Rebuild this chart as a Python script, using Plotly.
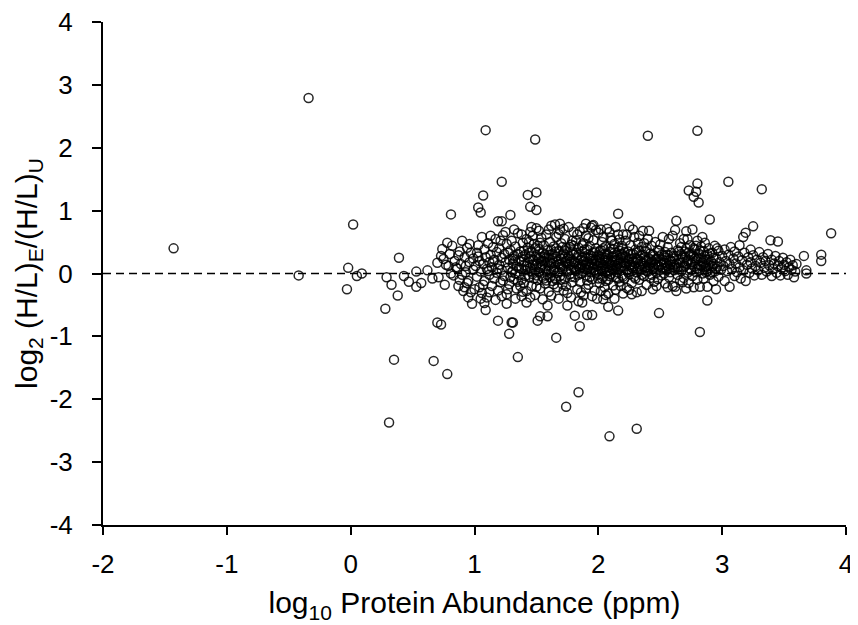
import plotly.graph_objects as go

# points, grouped by region (x = log10 abundance, y = log2 ratio)
left_pts = [(-1.43, 0.40), (-0.34, 2.79), (-0.42, -0.03), (0.02, 0.78), (-0.02, 0.09), (-0.03, -0.25),
            (0.05, -0.04), (0.09, 0.00), (0.39, 0.25), (0.29, -0.06), (0.33, -0.18), (0.38, -0.35),
            (0.28, -0.56), (0.43, -0.04), (0.47, -0.13), (0.53, 0.03), (0.53, -0.21), (0.57, -0.15),
            (0.35, -1.37), (0.31, -2.37), (0.67, -1.39), (0.78, -1.60), (0.70, -0.78), (0.73, -0.81)]

high_pts = [(1.09, 2.28), (1.49, 2.13), (2.40, 2.19), (2.80, 2.27), (1.22, 1.46), (1.07, 1.24), (1.43, 1.25),
            (1.50, 1.29), (2.80, 1.43), (2.73, 1.32), (2.79, 1.30), (2.77, 1.22), (2.81, 1.13), (3.05, 1.46),
            (3.32, 1.34), (0.81, 0.94), (1.03, 1.05), (1.05, 0.97), (1.45, 1.06), (1.50, 1.01), (1.29, 0.93),
            (1.19, 0.83), (1.22, 0.83), (2.16, 0.95), (1.69, 0.79), (1.90, 0.79), (1.95, 0.76)]

low_pts = [(2.09, -2.59), (2.31, -2.47), (1.74, -2.12), (1.84, -1.89), (1.35, -1.33), (1.66, -1.02),
           (2.82, -0.93), (2.49, -0.63), (1.28, -0.96), (1.19, -0.75), (1.30, -0.78), (1.31, -0.78),
           (1.85, -0.84), (1.81, -0.67), (1.91, -0.66), (1.95, -0.66), (1.51, -0.75), (1.53, -0.68),
           (1.59, -0.68), (1.09, -0.58), (2.08, -0.53), (2.16, -0.59), (2.88, -0.43), (0.98, -0.48),
           (1.08, -0.47), (1.26, -0.48), (1.42, -0.46), (1.59, -0.51), (1.75, -0.51), (1.87, -0.46),
           (2.04, -0.41), (2.27, -0.33), (3.06, -0.21), (3.19, -0.12)]

band_a = [(0.62, 0.05), (0.66, -0.08), (0.70, 0.17), (0.71, -0.06), (0.73, 0.28), (0.74, 0.39), (0.75, 0.23),
          (0.76, -0.18), (0.78, 0.49), (0.79, 0.12), (0.80, 0.31), (0.82, 0.44), (0.83, -0.03), (0.84, 0.20),
          (0.86, 0.08), (0.87, -0.20), (0.88, 0.35), (0.89, 0.15), (0.90, 0.52), (0.91, -0.28), (0.92, 0.26),
          (0.93, 0.02), (0.94, 0.41), (0.95, -0.12), (0.96, 0.18), (0.97, 0.33), (0.99, 0.06), (0.88, -0.10),
          (0.85, 0.10), (0.92, -0.22), (0.96, 0.47), (0.81, 0.00), (0.77, 0.14), (0.93, 0.12), (0.97, -0.30),
          (0.99, 0.24), (0.90, -0.02), (0.87, 0.29), (0.94, -0.15)]

band_b = [(1.01, 0.12), (1.02, -0.05), (1.02, 0.33), (1.03, 0.45), (1.04, -0.22), (1.04, 0.20), (1.05, 0.03),
          (1.06, 0.58), (1.06, -0.31), (1.07, 0.15), (1.08, 0.38), (1.08, -0.12), (1.09, 0.26), (1.10, 0.07),
          (1.10, -0.38), (1.11, 0.48), (1.12, 0.18), (1.12, -0.02), (1.13, 0.30), (1.14, -0.20), (1.14, 0.10),
          (1.15, 0.42), (1.16, 0.22), (1.16, -0.08), (1.17, 0.55), (1.18, 0.01), (1.18, 0.34), (1.19, -0.27),
          (1.20, 0.14), (1.20, 0.40), (1.21, -0.14), (1.22, 0.25), (1.22, 0.06), (1.23, 0.61), (1.24, -0.04),
          (1.24, 0.31), (1.25, 0.18), (1.26, -0.33), (1.26, 0.47), (1.27, 0.09), (1.28, 0.22), (1.28, -0.17),
          (1.29, 0.37), (1.30, 0.02), (1.30, 0.52), (1.31, 0.16), (1.32, -0.09), (1.32, 0.28), (1.33, 0.43),
          (1.34, -0.24), (1.34, 0.11), (1.35, 0.64), (1.36, 0.20), (1.36, -0.02), (1.37, 0.35), (1.38, 0.07),
          (1.38, -0.36), (1.39, 0.27), (1.39, 0.49), (1.40, 0.13), (1.03, 0.27), (1.07, -0.18), (1.11, 0.04),
          (1.15, 0.19), (1.19, 0.08), (1.23, -0.11), (1.27, 0.33), (1.31, 0.24), (1.35, -0.13), (1.38, 0.19),
          (1.13, 0.60), (1.21, 0.52), (1.29, -0.06), (1.33, 0.00), (1.37, -0.20)]

band_c = [(1.40, -0.15), (1.41, 0.30), (1.41, 0.05), (1.42, 0.55), (1.42, -0.28), (1.43, 0.18), (1.43, 0.41),
          (1.44, -0.06), (1.44, 0.24), (1.45, 0.09), (1.45, 0.66), (1.46, -0.20), (1.46, 0.35), (1.47, 0.14),
          (1.47, -0.01), (1.48, 0.47), (1.48, 0.21), (1.49, -0.34), (1.49, 0.06), (1.50, 0.29), (1.50, 0.72),
          (1.51, -0.10), (1.51, 0.16), (1.52, 0.39), (1.52, 0.02), (1.53, -0.24), (1.53, 0.26), (1.54, 0.57),
          (1.54, 0.11), (1.55, -0.05), (1.55, 0.33), (1.56, 0.19), (1.56, 0.45), (1.57, -0.16), (1.57, 0.08),
          (1.58, 0.62), (1.58, 0.25), (1.59, -0.02), (1.59, 0.37), (1.60, 0.13), (1.60, -0.29), (1.61, 0.50),
          (1.61, 0.22), (1.62, 0.04), (1.62, 0.76), (1.63, -0.12), (1.63, 0.31), (1.64, 0.17), (1.64, 0.43),
          (1.65, -0.07), (1.65, 0.10), (1.66, 0.58), (1.66, 0.27), (1.67, -0.22), (1.67, 0.01), (1.68, 0.36),
          (1.68, 0.15), (1.69, 0.69), (1.69, -0.04), (1.70, 0.23), (1.70, 0.48), (1.71, 0.07), (1.71, -0.17),
          (1.72, 0.32), (1.72, 0.12), (1.73, 0.55), (1.73, -0.09), (1.74, 0.20), (1.74, 0.40), (1.75, 0.03),
          (1.75, -0.31), (1.76, 0.28), (1.76, 0.74), (1.77, 0.14), (1.77, -0.01), (1.78, 0.46), (1.78, 0.19),
          (1.79, -0.14), (1.79, 0.35), (1.80, 0.09), (1.42, 0.12), (1.45, 0.27), (1.48, -0.08), (1.51, 0.44),
          (1.54, 0.20), (1.57, 0.30), (1.60, 0.05), (1.63, 0.24), (1.66, -0.10), (1.69, 0.14), (1.72, 0.26),
          (1.75, 0.16), (1.78, 0.06), (1.44, 0.50), (1.50, 0.13), (1.56, -0.08), (1.62, 0.38), (1.68, 0.63),
          (1.74, -0.20), (1.79, 0.52), (1.47, 0.60), (1.53, 0.09), (1.59, 0.18), (1.65, 0.34), (1.71, 0.42),
          (1.77, 0.24)]

band_d = [(1.80, 0.30), (1.81, -0.06), (1.81, 0.17), (1.82, 0.52), (1.82, 0.04), (1.83, -0.25), (1.83, 0.26),
          (1.84, 0.41), (1.84, 0.11), (1.85, -0.13), (1.85, 0.67), (1.86, 0.21), (1.86, 0.00), (1.87, 0.35),
          (1.87, 0.14), (1.88, -0.35), (1.88, 0.48), (1.89, 0.08), (1.89, 0.27), (1.90, -0.03), (1.90, 0.60),
          (1.91, 0.19), (1.91, 0.38), (1.92, -0.18), (1.92, 0.10), (1.93, 0.44), (1.93, 0.24), (1.94, 0.02),
          (1.94, 0.73), (1.95, 0.16), (1.95, -0.09), (1.96, 0.33), (1.96, 0.53), (1.97, 0.06), (1.97, -0.27),
          (1.98, 0.22), (1.98, 0.40), (1.99, 0.12), (1.99, -0.02), (2.00, 0.29), (2.00, 0.65), (2.01, 0.18),
          (2.01, -0.15), (2.02, 0.08), (2.02, 0.37), (2.03, 0.24), (2.03, 0.50), (2.04, -0.05), (2.04, 0.14),
          (2.05, 0.31), (2.05, -0.22), (2.06, 0.43), (2.06, 0.03), (2.07, 0.20), (2.07, 0.71), (2.08, 0.10),
          (2.08, -0.10), (2.09, 0.34), (2.09, 0.16), (2.10, 0.57), (2.10, -0.01), (2.11, 0.26), (2.11, 0.07),
          (2.12, -0.19), (2.12, 0.39), (2.13, 0.13), (2.13, 0.47), (2.14, 0.22), (2.14, -0.06), (2.15, 0.02),
          (2.15, 0.30), (2.16, 0.62), (2.16, 0.15), (2.17, -0.13), (2.17, 0.36), (2.18, 0.09), (2.18, 0.25),
          (2.19, 0.44), (2.19, -0.03), (2.20, 0.18), (1.82, 0.33), (1.85, 0.08), (1.88, 0.19), (1.91, -0.11),
          (1.94, 0.28), (1.97, 0.15), (2.00, 0.04), (2.03, -0.08), (2.06, 0.25), (2.09, 0.05), (2.12, 0.28),
          (2.15, 0.12), (2.18, -0.20), (1.83, 0.62), (1.87, 0.45), (1.92, 0.56), (1.98, 0.69), (2.04, 0.58),
          (2.11, 0.52), (2.17, 0.54), (1.86, -0.30), (1.95, -0.36), (2.02, -0.28), (2.08, -0.32), (2.14, -0.26),
          (1.89, 0.13), (1.96, 0.21), (2.01, 0.35), (2.07, 0.01), (2.13, 0.20), (2.19, 0.31)]

band_e = [(2.20, 0.40), (2.21, -0.08), (2.21, 0.12), (2.22, 0.27), (2.22, 0.52), (2.23, 0.05), (2.23, -0.23),
          (2.24, 0.19), (2.24, 0.35), (2.25, -0.01), (2.25, 0.75), (2.26, 0.14), (2.26, 0.45), (2.27, -0.15),
          (2.27, 0.24), (2.28, 0.08), (2.28, 0.31), (2.29, 0.58), (2.29, -0.05), (2.30, 0.17), (2.30, 0.38),
          (2.31, 0.02), (2.31, -0.30), (2.32, 0.22), (2.32, 0.49), (2.33, 0.11), (2.33, -0.10), (2.34, 0.29),
          (2.35, 0.06), (2.35, 0.42), (2.36, 0.68), (2.36, 0.16), (2.37, -0.04), (2.37, 0.26), (2.38, 0.09),
          (2.38, 0.36), (2.39, -0.18), (2.39, 0.20), (2.40, 0.55), (2.40, 0.03), (2.41, 0.68), (2.41, 0.13),
          (2.42, 0.32), (2.42, -0.07), (2.43, 0.21), (2.43, 0.44), (2.44, 0.07), (2.45, -0.13), (2.45, 0.28),
          (2.46, 0.15), (2.46, 0.50), (2.47, 0.01), (2.47, 0.24), (2.48, 0.37), (2.48, -0.09), (2.49, 0.11),
          (2.50, 0.19), (2.50, 0.46), (2.51, -0.03), (2.51, 0.30), (2.52, 0.08), (2.52, 0.58), (2.53, 0.17),
          (2.54, -0.16), (2.54, 0.34), (2.55, 0.05), (2.55, 0.25), (2.56, 0.42), (2.56, 0.12), (2.57, -0.06),
          (2.57, 0.55), (2.58, 0.21), (2.58, 0.02), (2.59, 0.33), (2.60, 0.10), (2.23, 0.62), (2.27, 0.10),
          (2.34, 0.14), (2.39, 0.04), (2.44, 0.18), (2.49, 0.27), (2.53, 0.00), (2.58, 0.14), (2.25, 0.23),
          (2.31, 0.33), (2.37, 0.48), (2.42, 0.09), (2.47, -0.20), (2.52, 0.22)]

band_f = [(2.60, -0.20), (2.60, 0.60), (2.61, 0.28), (2.61, 0.05), (2.62, 0.69), (2.62, -0.21), (2.63, 0.16),
          (2.63, 0.84), (2.64, 0.37), (2.64, -0.02), (2.65, 0.22), (2.65, 0.10), (2.66, 0.48), (2.66, -0.11),
          (2.67, 0.31), (2.67, 0.04), (2.68, 0.18), (2.69, 0.55), (2.69, -0.07), (2.70, 0.26), (2.70, 0.12),
          (2.71, 0.67), (2.71, 0.40), (2.72, 0.01), (2.72, 0.20), (2.73, -0.15), (2.73, 0.33), (2.74, 0.08),
          (2.74, 0.45), (2.75, 0.15), (2.76, 0.70), (2.76, -0.04), (2.77, -0.22), (2.77, 0.28), (2.78, 0.11),
          (2.78, 0.38), (2.79, 0.02), (2.79, 0.21), (2.80, 0.52), (2.80, -0.10), (2.81, 0.14), (2.81, 0.32),
          (2.82, -0.21), (2.82, 0.06), (2.83, 0.25), (2.83, 0.43), (2.84, 0.00), (2.84, 0.17), (2.85, 0.35),
          (2.85, -0.08), (2.86, 0.10), (2.86, 0.49), (2.87, 0.22), (2.88, -0.21), (2.88, 0.04), (2.88, 0.30),
          (2.89, 0.13), (2.89, 0.40), (2.90, 0.86), (2.90, -0.02), (2.91, 0.19), (2.91, 0.08), (2.92, 0.33),
          (2.93, -0.12), (2.93, 0.15), (2.94, 0.44), (2.94, 0.03), (2.95, -0.25), (2.95, 0.24), (2.96, 0.11),
          (2.97, 0.36), (2.97, -0.05), (2.98, 0.18), (2.99, 0.06), (3.00, 0.28), (2.62, 0.09), (2.67, 0.42),
          (2.72, 0.55), (2.75, 0.30), (2.79, 0.44), (2.84, 0.58), (2.87, 0.12), (2.92, 0.02), (2.96, 0.40),
          (2.68, -0.14)]

band_g = [(3.01, 0.12), (3.02, -0.12), (3.02, 0.38), (3.03, 0.20), (3.04, 0.04), (3.05, 0.30), (3.06, 0.15),
          (3.07, 0.42), (3.08, 0.07), (3.09, 0.24), (3.10, -0.04), (3.10, 0.35), (3.11, 0.16), (3.12, 0.02),
          (3.13, 0.27), (3.14, 0.45), (3.14, 0.10), (3.15, -0.08), (3.16, 0.21), (3.17, 0.58), (3.17, 0.05),
          (3.18, 0.33), (3.19, 0.65), (3.20, 0.14), (3.21, 0.26), (3.22, 0.01), (3.23, 0.38), (3.23, 0.18),
          (3.24, 0.08), (3.25, 0.75), (3.25, 0.29), (3.26, -0.03), (3.27, 0.12), (3.28, 0.22), (3.29, 0.05),
          (3.30, 0.34), (3.31, 0.17), (3.32, -0.02), (3.33, 0.26), (3.34, 0.09), (3.35, 0.20), (3.36, 0.03),
          (3.37, 0.31), (3.38, 0.13), (3.39, 0.53), (3.40, -0.04), (3.40, 0.22), (3.41, 0.07), (3.42, 0.16),
          (3.43, 0.28), (3.44, 0.01), (3.45, 0.51), (3.45, 0.12), (3.46, 0.20), (3.47, -0.03), (3.48, 0.09),
          (3.49, 0.25), (3.50, 0.14), (3.51, 0.04), (3.52, 0.18), (3.53, -0.02), (3.54, 0.10), (3.55, 0.22),
          (3.56, 0.06), (3.57, 0.13), (3.58, -0.06), (3.59, 0.03), (3.60, 0.15), (3.66, 0.28), (3.68, 0.05),
          (3.68, 0.00), (3.80, 0.30), (3.80, 0.20), (3.88, 0.64)]

# the solid dark core of the cloud
core_pts = [(1.31, 0.05), (1.33, 0.21), (1.35, 0.31), (1.36, 0.09), (1.38, -0.10), (1.40, 0.36), (1.41, -0.04),
            (1.43, 0.07), (1.44, 0.33), (1.46, 0.03), (1.47, 0.22), (1.49, 0.40), (1.50, -0.03), (1.52, 0.23),
            (1.53, 0.49), (1.55, 0.14), (1.56, 0.27), (1.58, 0.04), (1.58, -0.11), (1.60, 0.30), (1.61, -0.06),
            (1.62, 0.16), (1.64, 0.06), (1.64, -0.17), (1.66, 0.40), (1.67, 0.19), (1.68, 0.03), (1.70, 0.11),
            (1.70, -0.10), (1.71, 0.30), (1.73, 0.18), (1.73, 0.37), (1.75, 0.24), (1.76, 0.06), (1.77, 0.42),
            (1.78, -0.05), (1.80, 0.20), (1.80, 0.44), (1.81, 0.06), (1.83, 0.15), (1.84, -0.02), (1.84, 0.30),
            (1.86, 0.10), (1.87, 0.25), (1.88, 0.03), (1.89, 0.38), (1.90, 0.16), (1.91, 0.06), (1.92, 0.30),
            (1.93, 0.13), (1.93, -0.06), (1.95, 0.24), (1.96, 0.09), (1.97, 0.35), (1.98, 0.01), (1.99, 0.20),
            (2.00, 0.12), (2.00, -0.08), (2.01, 0.26), (2.02, 0.17), (2.03, 0.04), (2.04, 0.40), (2.05, 0.10),
            (2.05, 0.21), (2.06, -0.12), (2.07, 0.31), (2.08, 0.23), (2.09, -0.04), (2.10, 0.14), (2.10, 0.40),
            (2.11, 0.18), (2.12, 0.05), (2.13, 0.33), (2.14, 0.10), (2.15, 0.22), (2.16, -0.08), (2.16, 0.42),
            (2.17, 0.07), (2.18, 0.17), (2.19, 0.11), (2.20, 0.28), (2.20, -0.05), (2.21, 0.34), (2.22, 0.16),
            (2.23, 0.25), (2.24, 0.02), (2.25, 0.13), (2.26, 0.31), (2.27, 0.04), (2.28, 0.19), (2.29, 0.12),
            (2.30, -0.08), (2.31, 0.24), (2.32, 0.08), (2.33, 0.36), (2.34, 0.19), (2.35, -0.02), (2.36, 0.30),
            (2.37, 0.12), (2.38, 0.21), (2.39, 0.40), (2.40, 0.10), (2.41, 0.24), (2.42, 0.17), (2.43, -0.02),
            (2.44, 0.30), (2.45, 0.09), (2.46, 0.22), (2.48, 0.13), (2.49, 0.36), (2.50, 0.06), (2.51, 0.15),
            (2.53, 0.28), (2.54, 0.09), (2.55, 0.16), (2.56, 0.30), (2.57, 0.08), (2.59, 0.19), (2.60, 0.24),
            (2.61, 0.14), (2.63, 0.28), (2.64, 0.09), (2.65, 0.35), (2.66, 0.17), (2.68, 0.26), (2.69, 0.10),
            (2.70, 0.35), (2.71, 0.16), (2.73, 0.22), (2.74, 0.30), (2.75, 0.05), (2.76, 0.18), (2.77, 0.40),
            (2.78, 0.24), (2.80, 0.08), (2.81, 0.24), (2.82, 0.36), (2.83, 0.12), (2.85, 0.20), (2.86, 0.28),
            (2.87, 0.02), (2.89, 0.22), (2.90, 0.32), (2.92, 0.12), (2.93, 0.25), (2.95, 0.08)]

lower_edge = [(0.95, -0.38), (1.00, -0.25), (1.05, -0.40), (1.12, -0.30), (1.17, -0.42), (1.22, -0.36),
              (1.27, -0.25), (1.33, -0.40), (1.39, -0.29), (1.45, -0.38), (1.50, -0.21), (1.55, -0.41),
              (1.62, -0.35), (1.68, -0.40), (1.72, -0.27), (1.78, -0.38), (1.84, -0.44), (1.90, -0.24),
              (1.99, -0.40), (2.06, -0.34), (2.13, -0.40), (2.20, -0.32), (2.25, -0.26), (2.35, -0.28),
              (2.44, -0.25), (2.56, -0.22), (2.63, -0.28), (2.71, -0.24)]

upper_edge = [(1.25, 0.66), (1.32, 0.70), (1.38, 0.62), (1.46, 0.74), (1.52, 0.68), (1.60, 0.70), (1.65, 0.78),
              (1.72, 0.71), (1.80, 0.66), (1.88, 0.72), (1.96, 0.77), (2.02, 0.70), (2.09, 0.66), (2.14, 0.74),
              (2.20, 0.62), (2.28, 0.70), (2.33, 0.60)]

baseline_x = [-2, 4]
baseline_y = [0, 0]
x_ticks = [-2, -1, 0, 1, 2, 3, 4]
x_labels = ['-2', '-1', '0', '1', '2', '3', '4']
y_ticks = [-4, -3, -2, -1, 0, 1, 2, 3, 4]
y_labels = ['-4', '-3', '-2', '-1', '0', '1', '2', '3', '4']

groups = [left_pts, high_pts, low_pts, band_a, band_b, band_c, band_d, band_e, band_f, band_g,
          core_pts, lower_edge, upper_edge]
xs = [p[0] for g in groups for p in g]
ys = [p[1] for g in groups for p in g]

fig = go.Figure()
fig.add_trace(go.Scatter(x=baseline_x, y=baseline_y, mode='lines',
                         line=dict(color='black', width=1.6, dash='8px,5px'), hoverinfo='skip'))
fig.add_trace(go.Scatter(x=xs, y=ys, mode='markers',
                         marker=dict(symbol='circle-open', size=9, color='rgba(0,0,0,0.85)',
                                     line=dict(width=1.5))))

# page body has an 8px margin, so the figure is a bit smaller than the window
font = 'Liberation Sans, Arial, sans-serif'
fig.update_layout(
    width=850, height=617,
    margin=dict(l=95, r=12, t=14, b=100),
    paper_bgcolor='white', plot_bgcolor='white',
    showlegend=False,
    font=dict(family=font, size=26, color='black'),
)
fig.update_xaxes(range=[-2, 4], tickvals=x_ticks, ticktext=x_labels, showgrid=False, zeroline=False,
                 showline=True, linecolor='black', linewidth=2, automargin=False,
                 ticks='outside', ticklen=8, tickwidth=2, tickcolor='black',
                 ticklabelstandoff=7, ticklabeloverflow='allow', tickfont=dict(size=26),
                 title=dict(text='log<sub>10</sub> Protein Abundance (ppm)', font=dict(size=30), standoff=14))
fig.update_yaxes(range=[-4, 4], tickvals=y_ticks, ticktext=y_labels, showgrid=False, zeroline=False,
                 showline=True, linecolor='black', linewidth=2, automargin=False,
                 ticks='outside', ticklen=9, tickwidth=2, tickcolor='black',
                 ticklabelstandoff=14, ticklabeloverflow='allow', tickfont=dict(size=26),
                 title=dict(text='log<sub>2</sub> (H/L)<sub>E</sub>/(H/L)<sub>U</sub>', font=dict(size=30), standoff=3))

fig.write_html("out.html")
